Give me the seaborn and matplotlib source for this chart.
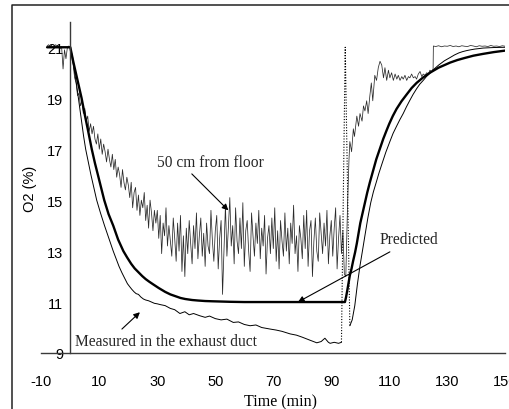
import numpy as np
import pandas as pd
import matplotlib
matplotlib.use("Agg")
import matplotlib.pyplot as plt
import seaborn as sns
from matplotlib.lines import Line2D
from matplotlib import font_manager as fm

# ---------------- data ----------------
# 50 cm from floor: before start (t = -8 .. -0.5, step 0.5)
floor_pre_start = -8.0
floor_pre = [21.05, 21.1, 21.0, 21.08, 20.98, 21.05, 21.1, 21.0, 21.04, 20.95,
             21.02, 20.15, 20.9, 20.55, 21.0, 21.05]
# 50 cm from floor: t = 0 .. 94.5, step 0.5
floor_main = [
    21.0, 20.6, 20.3, 19.8, 19.6, 19.1, 19.2, 18.7, 18.9, 18.4,
    18.6, 18.1, 18.3, 17.7, 18.0, 17.6, 17.9, 17.4, 17.2, 17.6,
    17.0, 17.4, 16.8, 17.2, 16.9, 16.5, 17.0, 16.6, 16.3, 16.8,
    16.2, 16.6, 15.9, 16.3, 16.0, 15.5, 16.2, 15.7, 15.4, 15.9,
    15.6, 15.1, 15.7, 14.7, 15.3, 15.5, 14.6, 15.2, 14.4, 15.0,
    14.7, 15.3, 14.2, 14.8, 13.9, 15.0, 14.5, 13.8, 14.6, 14.1,
    14.6, 13.5, 14.4, 12.9, 14.1, 13.6, 14.7, 13.2, 14.0, 13.4,
    12.8, 14.3, 13.5, 12.6, 14.1, 13.0, 14.4, 12.2, 13.6, 12.0,
    13.9, 12.9, 14.2, 13.3, 12.5, 14.0, 13.1, 14.5, 12.7, 13.6,
    14.3, 12.8, 13.7, 12.4, 14.1, 13.2, 12.9, 14.6, 13.4, 12.6,
    13.8, 14.4, 12.3, 13.5, 14.2, 11.3, 13.0, 14.8, 12.8, 13.9,
    15.1, 13.2, 14.0, 12.5, 14.7, 13.4, 12.9, 14.3, 13.1, 14.9,
    12.4, 13.8, 14.2, 13.0, 12.2, 14.5, 13.6, 12.8, 14.1, 13.3,
    14.6, 12.7, 13.9, 13.2, 14.4, 12.1, 13.5, 14.0, 12.9, 14.3,
    13.1, 14.7, 12.6, 13.8, 12.3, 14.2, 13.4, 12.8, 14.5, 13.0,
    13.9, 12.5, 14.1, 13.3, 14.8, 12.9, 13.6, 12.2, 14.0, 13.5,
    12.7, 14.4, 13.1, 14.6, 12.4, 13.8, 14.2, 12.0, 13.4, 14.3,
    13.0, 12.6, 14.5, 13.7, 12.9, 14.1, 13.2, 14.6, 12.5, 13.6,
    14.2, 12.8, 13.9, 14.7, 12.3, 13.5, 14.4, 12.9, 13.8, 12.1,
]
floor_step = 0.5
# 50 cm from floor: recovery after ventilation change
floor_rec_t = [95.0, 95.6, 96.1, 96.4, 97.0, 97.6, 98.0, 98.8, 99.4, 99.9,
               100.6, 101.1, 101.6, 102.2, 102.7, 103.3, 103.8, 104.3, 105.0, 105.6,
               106.2, 106.8, 107.4, 108.0, 108.5, 109.1, 109.7, 110.2, 110.8, 111.4,
               112.0, 112.6, 113.1, 113.7, 114.3, 114.8, 115.4, 116.0, 116.6, 117.1,
               117.7, 118.3, 118.9, 119.4, 120.0, 120.6, 121.2, 121.7, 122.3, 122.9,
               123.5, 124.0, 124.6, 125.1, 125.2]
floor_rec = [12.0, 14.8, 16.6, 17.3, 16.9, 17.8, 17.5, 18.3, 17.9, 18.4,
             18.1, 18.7, 18.5, 18.9, 18.4, 19.1, 19.6, 18.9, 19.9, 19.7,
             20.2, 20.45, 20.3, 19.8, 20.2, 19.7, 20.1, 19.8, 20.0, 19.7,
             19.95, 19.75, 19.9, 19.7, 19.85, 19.75, 19.9, 19.7, 19.85, 19.8,
             19.95, 19.8, 19.85, 19.75, 19.95, 20.05, 19.85, 19.95, 19.9, 20.0,
             19.95, 20.1, 20.05, 20.15, 21.05]
# 50 cm from floor: plateau t = 126 .. 150 step 1
floor_plateau_start = 126.0
floor_plateau = [21.03, 21.06, 21.02, 21.05, 21.04, 21.07, 21.03, 21.05, 21.02, 21.06,
                 21.04, 21.03, 21.07, 21.05, 21.02, 21.06, 21.04, 21.05, 21.03, 21.07,
                 21.04, 21.05, 21.03, 21.06, 21.04]

# Predicted
pred_t = [-8, 0, 1, 2, 3, 3.9, 5, 6, 7.4, 8.5, 9.5, 10.6, 11.7, 13.2, 14.8, 16.5,
          18.3, 19.6, 21, 22.2, 23.5, 24.8, 26, 27.2, 28.5, 30.5, 32.7, 34.5, 36,
          38, 39.6, 42, 44, 46.5, 49, 52, 55, 60, 70, 80, 94.7,
          95.1, 95.5, 96.0, 96.4, 97.0, 97.5, 98.2, 98.8, 99.4, 100, 100.8, 101.6,
          102.4, 103.3, 104.4, 105.5, 106.7, 107.9, 109, 110, 111.2, 112.5, 114.2,
          116, 117.7, 119.4, 121.5, 124, 127, 131, 133.5, 136, 139, 142.3, 146, 150]
pred_o2 = [21.0, 21.0, 20.45, 19.95, 19.45, 19.0, 18.35, 17.8, 17.0, 16.45, 16.0,
           15.5, 15.0, 14.45, 14.0, 13.45, 13.0, 12.75, 12.5, 12.32, 12.17, 12.02,
           11.9, 11.8, 11.7, 11.55, 11.4, 11.3, 11.24, 11.16, 11.12, 11.08, 11.06,
           11.04, 11.03, 11.02, 11.01, 11.0, 11.0, 11.0, 11.0,
           11.2, 11.45, 11.78, 12.05, 12.32, 12.6, 12.95, 13.3, 13.7, 14.1, 14.5,
           14.9, 15.3, 15.7, 16.15, 16.6, 17.0, 17.4, 17.72, 18.0, 18.3, 18.58,
           18.88, 19.15, 19.4, 19.6, 19.8, 20.0, 20.2, 20.4, 20.5, 20.58, 20.67,
           20.74, 20.81, 20.87]

# Measured in the exhaust duct
exh_t = [-8, 0, 0.8, 1.5, 2.2, 2.8, 3.4, 4.0, 4.6, 5.3, 6.2, 7.1, 8.1, 9.1, 10.4,
         11.8, 13.3, 14.8, 15.8, 16.8, 17.8, 18.9, 19.7, 20.5, 21.2, 22.0, 22.7,
         23.5, 24.3, 25.2, 26, 27, 28, 29, 30, 31, 32.7, 34.5, 36, 37.8, 39.5, 41,
         42.5, 44.7, 46.5, 48, 50, 52, 54, 56.2, 58, 60, 62, 64, 66, 68.9, 71, 73,
         75.8, 78, 80, 82.7, 85, 86.5, 87.8, 89.0, 89.6, 91, 92.5, 93.5]
exh_o2 = [21.0, 21.0, 20.6, 20.0, 19.5, 19.0, 18.5, 18.0, 17.5, 17.0, 16.5, 16.0,
          15.5, 15.0, 14.5, 14.0, 13.5, 13.0, 12.7, 12.4, 12.15, 11.9, 11.72, 11.6,
          11.5, 11.4, 11.33, 11.3, 11.2, 11.12, 11.08, 11.05, 11.0, 10.95, 10.93,
          10.9, 10.86, 10.75, 10.7, 10.55, 10.62, 10.5, 10.55, 10.46, 10.4, 10.45,
          10.35, 10.3, 10.33, 10.2, 10.22, 10.12, 10.07, 10.1, 10.0, 9.94, 9.9,
          9.85, 9.75, 9.7, 9.62, 9.5, 9.4, 9.45, 9.58, 9.42, 9.38, 9.42, 9.38, 9.42]
exh_gap_t = [93.5, 94.8, 96.4]
exh_gap_o2 = [9.42, 21.0, 10.07]
exh_rise_t = [96.4, 97.2, 98.1, 99.0, 99.9, 100.8, 101.6, 102.6, 103.6, 104.5, 105.5,
              106.4, 107.4, 108.8, 110.2, 111.3, 112.5, 113.6, 114.8, 115.9, 117,
              118.2, 119.4, 120.5, 121.7, 122.8, 124, 125.5, 127, 129, 131, 132.5,
              134, 135.3, 136.7, 138, 139.5, 141, 142.4, 146, 150]
exh_rise_o2 = [10.07, 10.3, 10.86, 11.7, 12.43, 13.05, 13.61, 14.3, 14.9, 15.32, 15.7,
               16.05, 16.4, 16.88, 17.3, 17.62, 17.9, 18.15, 18.4, 18.66, 18.9, 19.15,
               19.37, 19.55, 19.7, 19.85, 19.98, 20.15, 20.3, 20.47, 20.6, 20.7,
               20.78, 20.83, 20.87, 20.9, 20.93, 20.95, 20.97, 20.99, 21.0]

x_ticks = [-10, 10, 30, 50, 70, 90, 110, 130, 150]
y_ticks = [9, 11, 13, 15, 17, 19, 21]
x_label = "Time (min)"
y_label = "O2 (%)"
lab_floor = "50 cm from floor"
lab_pred = "Predicted"
lab_exh = "Measured in the exhaust duct"

# ---------------- build frames ----------------
floor_t = np.concatenate([
    floor_pre_start + floor_step * np.arange(len(floor_pre)),
    floor_step * np.arange(len(floor_main)),
    np.array(floor_rec_t),
    floor_plateau_start + np.arange(len(floor_plateau)),
])
floor_o2 = np.concatenate([floor_pre, floor_main, floor_rec, floor_plateau])
df_floor = pd.DataFrame({"t": floor_t, "o2": floor_o2})
df_pred = pd.DataFrame({"t": pred_t, "o2": pred_o2})
df_exh = pd.DataFrame({"t": exh_t, "o2": exh_o2})
df_gap = pd.DataFrame({"t": exh_gap_t, "o2": exh_gap_o2})
df_rise = pd.DataFrame({"t": exh_rise_t, "o2": exh_rise_o2})

# ---------------- style ----------------
sns.set_style("white")
avail = {f.name for f in fm.fontManager.ttflist}
sans = "Liberation Sans Narrow" if "Liberation Sans Narrow" in avail else "Liberation Sans"
serif = "Liberation Serif"
plt.rcParams["font.family"] = [sans, "DejaVu Sans"]
tick_size = 11.5 if sans.endswith("Narrow") else 10.5

fig = plt.figure(figsize=(5.1, 4.1), dpi=100)
ax = fig.add_axes([41.3 / 510, 1 - 354 / 410, 464 / 510, (354 - 22.8) / 410])

kw = dict(estimator=None, sort=False, legend=False, ax=ax)
sns.lineplot(data=df_floor, x="t", y="o2", color="#2a2a2a", lw=0.55, **kw)
sns.lineplot(data=df_exh, x="t", y="o2", color="black", lw=0.7, **kw)
sns.lineplot(data=df_gap, x="t", y="o2", color="black", lw=0.8, ls=(0, (1, 1.5)), **kw)
sns.lineplot(data=df_rise, x="t", y="o2", color="black", lw=0.7, **kw)
sns.lineplot(data=df_pred, x="t", y="o2", color="black", lw=1.7, **kw)

ax.set_xlim(-10, 150)
ax.set_ylim(9, 22)
ax.set_xticks(x_ticks)
ax.set_yticks(y_ticks)
ax.set_xticklabels([str(v) for v in x_ticks])
ax.set_yticklabels([str(v) for v in y_ticks])

for s in ["top", "right"]:
    ax.spines[s].set_visible(False)
ax.spines["left"].set_position(("data", 0))
for s in ["left", "bottom"]:
    ax.spines[s].set_color("#3a3a3a")
    ax.spines[s].set_linewidth(1.0)

ax.tick_params(axis="x", direction="in", length=3.5, width=0.9, color="#3a3a3a",
               pad=15, labelsize=tick_size, labelcolor="black")
ax.tick_params(axis="y", direction="in", length=2.5, width=0.9, color="#3a3a3a",
               pad=5, labelsize=tick_size, labelcolor="black")

ax.set_xlabel(x_label, fontfamily=serif, fontsize=11.5, color="black")
ax.xaxis.set_label_coords(0.5155, -0.122)
ax.set_ylabel(y_label, fontsize=tick_size, color="black")
ax.yaxis.set_label_coords(-0.01, 0.5)

arrow = dict(arrowstyle="-|>", lw=0.8, color="black", mutation_scale=9,
             shrinkA=0, shrinkB=0)
ax.annotate("", xy=(54.5, 14.6), xytext=(41.9, 16.03), arrowprops=arrow)
ax.annotate("", xy=(24.0, 10.6), xytext=(17.8, 9.94), arrowprops=arrow)
ax.annotate("", xy=(78.5, 11.0), xytext=(110.2, 12.97), arrowprops=arrow)

ax.text(48.2, 16.5, lab_floor, fontfamily=serif, fontsize=11.2, ha="center", va="center")
ax.text(116.8, 13.48, lab_pred, fontfamily=serif, fontsize=11.2, ha="center", va="center")
ax.text(33.0, 9.47, lab_exh, fontfamily=serif, fontsize=11.2, ha="center", va="center")

# figure frame (top and left edges visible)
fig.add_artist(Line2D([12 / 510, 12 / 510, 1.05], [-0.05, 1 - 6 / 410, 1 - 6 / 410],
                      transform=fig.transFigure, color="#222222", lw=1.1))

fig.savefig("out.png", dpi=100)
